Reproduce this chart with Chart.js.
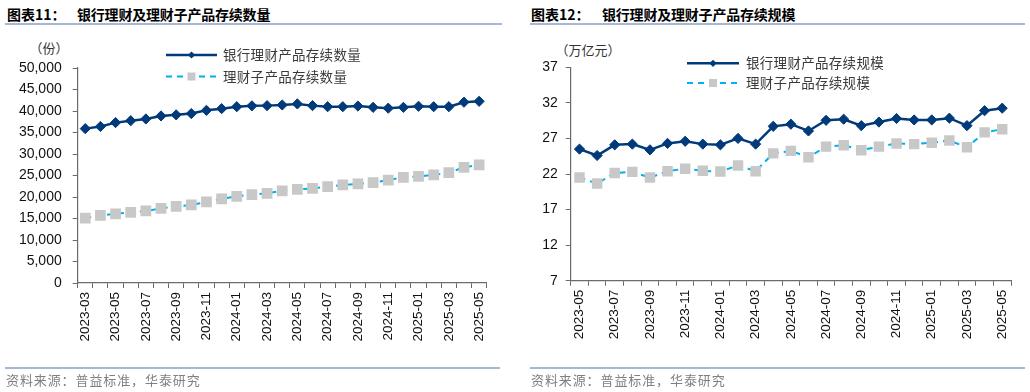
<!DOCTYPE html>
<html>
<head>
<meta charset="utf-8">
<script src="https://cdn.jsdelivr.net/npm/chart.js@4"></script>
<style>
  html, body { margin:0; padding:0; background:#fff; width:1030px; height:392px; overflow:hidden; }
  .abs { position:absolute; white-space:nowrap; }
  .title { font-family:"Noto Sans CJK SC", sans-serif; font-weight:700; font-size:14px; line-height:18px; color:#000; top:5px; }
  .rule { position:absolute; height:2px; background:#a7b8d4; }
  .unit { font-family:"Noto Sans CJK SC", sans-serif; font-size:13px; line-height:16px; color:#333; text-align:center; }
  .foot { font-family:"Noto Sans CJK SC", sans-serif; font-size:13px; line-height:16px; color:#808080; top:372px; letter-spacing:0.9px; }
  canvas { position:absolute; top:0; }
</style>
</head>
<body>
<div class="abs title" style="left:7px;">图表11：</div>
<div class="abs title" style="left:77px;letter-spacing:-0.2px;">银行理财及理财子产品存续数量</div>
<div class="rule" style="left:5px;width:497px;top:23px;"></div>
<div class="abs title" style="left:531px;">图表12：</div>
<div class="abs title" style="left:602px;letter-spacing:-0.2px;">银行理财及理财子产品存续规模</div>
<div class="rule" style="left:530px;width:495px;top:23px;"></div>

<div class="abs unit" style="left:19px;width:60px;top:40px;">（份）</div>
<div class="abs unit" style="left:548px;width:80px;top:42px;">（万亿元）</div>

<canvas id="c1" width="515" height="392" style="left:0;"></canvas>
<canvas id="c2" width="515" height="392" style="left:515px;"></canvas>

<div class="rule" style="left:5px;width:495px;top:367px;height:1.5px;"></div>
<div class="rule" style="left:530px;width:495px;top:367px;height:1.5px;"></div>
<div class="abs foot" style="left:6px;">资料来源：普益标准，华泰研究</div>
<div class="abs foot" style="left:531px;">资料来源：普益标准，华泰研究</div>

<script>
// ---- Data: chart 1 (product counts) ----
const months1 = ["2023-03","2023-04","2023-05","2023-06","2023-07","2023-08","2023-09","2023-10","2023-11","2023-12",
  "2024-01","2024-02","2024-03","2024-04","2024-05","2024-06","2024-07","2024-08","2024-09","2024-10","2024-11","2024-12",
  "2025-01","2025-02","2025-03","2025-04","2025-05"];
const bankCount = [35900,36400,37300,37750,38150,38850,39100,39400,40150,40550,41000,41200,41250,41400,41650,41250,41000,
  41000,41150,40850,40650,40850,41100,41000,41000,42050,42250];
const subCount = [15100,15700,16100,16450,16750,17350,17800,18150,18850,19550,20150,20550,20850,21450,21750,22000,22400,
  22800,23050,23350,23950,24550,24800,25150,25650,26900,27450];
const yTicks1 = { min:0, max:50000, step:5000 };

// ---- Data: chart 2 (product scale, trillion yuan) ----
const months2 = ["2023-05","2023-06","2023-07","2023-08","2023-09","2023-10","2023-11","2023-12",
  "2024-01","2024-02","2024-03","2024-04","2024-05","2024-06","2024-07","2024-08","2024-09","2024-10","2024-11","2024-12",
  "2025-01","2025-02","2025-03","2025-04","2025-05"];
const bankScale = [25.5,24.6,26.1,26.2,25.4,26.3,26.6,26.2,26.1,27.0,26.2,28.7,29.0,28.05,29.55,29.7,28.8,29.3,29.8,29.6,29.6,29.85,28.8,30.9,31.25];
const subScale = [21.5,20.65,22.15,22.3,21.5,22.4,22.75,22.45,22.35,23.2,22.4,24.9,25.25,24.35,25.85,26.05,25.35,25.85,26.3,26.2,26.4,26.7,25.75,27.85,28.3];
const yTicks2 = { min:7, max:37, step:5 };

const legend1 = ["银行理财产品存续数量","理财子产品存续数量"];
const legend2 = ["银行理财产品存续规模","理财子产品存续规模"];

const NAVY = '#003a7a', BLUE = '#00b0f0', GRAY = '#c8c8c8', AXIS = '#6b6b6b';

function drawMarker(ctx, style, x, y, r, color) {
  ctx.save();
  ctx.fillStyle = color;
  ctx.beginPath();
  if (style === 'rectRot') {
    ctx.moveTo(x, y - r); ctx.lineTo(x + r, y); ctx.lineTo(x, y + r); ctx.lineTo(x - r, y); ctx.closePath();
  } else {
    ctx.rect(x - r, y - r, 2 * r, 2 * r);
  }
  ctx.fill();
  ctx.restore();
}

const legendPlugin = {
  id: 'customLegend',
  afterDraw(chart, args, opts) {
    const ctx = chart.ctx;
    chart.data.datasets.forEach((ds, i) => {
      const y = opts.y0 + i * opts.dy;
      ctx.save();
      ctx.strokeStyle = ds.borderColor;
      ctx.lineWidth = ds.borderWidth;
      ctx.setLineDash(ds.borderDash || []);
      ctx.beginPath();
      ctx.moveTo(opts.x1, y); ctx.lineTo(opts.x2, y);
      ctx.stroke();
      ctx.restore();
      const mx = (opts.x1 + opts.x2) / 2;
      if (ds.pointStyle === 'rectRot') drawMarker(ctx, 'rectRot', mx, y, 3.6, ds.pointBackgroundColor);
      else drawMarker(ctx, 'rect', mx, y, 4, ds.pointBackgroundColor);
      ctx.save();
      ctx.fillStyle = '#3a3a3a';
      ctx.font = '13.5px "Noto Sans CJK SC", sans-serif';
      try { ctx.letterSpacing = '0.3px'; } catch (e) {}
      ctx.textBaseline = 'middle';
      ctx.textAlign = 'left';
      ctx.fillText(opts.labels[i], opts.tx, y);
      ctx.restore();
    });
  }
};

function makeChart(id, labels, s1, s2, names, yt, geom, legendOpts, fmt) {
  return new Chart(document.getElementById(id), {
    type: 'line',
    data: {
      labels: labels,
      datasets: [
        { label: names[0], data: s1, borderColor: NAVY, backgroundColor: NAVY, borderWidth: 2.5,
          pointStyle: 'rectRot', pointRadius: geom.dia, pointBackgroundColor: NAVY, pointBorderColor: NAVY,
          pointBorderWidth: 1, tension: 0, order: 1 },
        { label: names[1], data: s2, borderColor: BLUE, backgroundColor: GRAY, borderWidth: 2, borderDash: [6, 5],
          pointStyle: 'rect', pointRadius: geom.sq, pointBackgroundColor: GRAY, pointBorderColor: GRAY,
          pointBorderWidth: 0, tension: 0, order: 2 }
      ]
    },
    options: {
      responsive: false,
      devicePixelRatio: 1,
      animation: false,
      events: [],
      layout: { autoPadding: false, padding: { top: geom.top, right: geom.right, left: 0, bottom: 0 } },
      plugins: { legend: { display: false }, tooltip: { enabled: false }, customLegend: legendOpts },
      scales: {
        x: {
          type: 'category',
          offset: true,
          afterFit: (s) => { s.height = geom.xh; },
          grid: { display: true, drawOnChartArea: false, drawTicks: true, tickLength: 5, offset: true, color: AXIS, lineWidth: 1 },
          border: { display: true, color: AXIS, width: 1.2 },
          ticks: {
            autoSkip: false, maxRotation: 90, minRotation: 90, padding: 4,
            color: '#111', font: { family: '"Liberation Sans", Arial, sans-serif', size: 13.5 },
            callback: function (v, i) { return i % 2 === 0 ? this.getLabelForValue(v) : ''; }
          }
        },
        y: {
          min: yt.min, max: yt.max,
          afterFit: (s) => { s.width = geom.yw; },
          grid: { display: true, drawOnChartArea: false, drawTicks: true, tickLength: 5, color: AXIS, lineWidth: 1 },
          border: { display: true, color: AXIS, width: 1.2 },
          ticks: {
            stepSize: yt.step, padding: geom.ypad, color: '#111',
            font: { family: '"Liberation Sans", Arial, sans-serif', size: 14 },
            callback: fmt
          }
        }
      }
    },
    plugins: [legendPlugin]
  });
}

makeChart('c1', months1, bankCount, subCount, legend1, yTicks1,
  { top: 68, right: 28.3, xh: 109, yw: 77.7, ypad: 11, dia: 5.1, sq: 7.6 },
  { x1: 166, x2: 217, tx: 223, y0: 55, dy: 21.5, labels: legend1 },
  (v) => Number(v).toLocaleString('en-US'));

makeChart('c2', months2, bankScale, subScale, legend2, yTicks2,
  { top: 67.3, right: 19, xh: 111.3, yw: 55.7, ypad: 8, dia: 5.1, sq: 7.4 },
  { x1: 172, x2: 224, tx: 231, y0: 63.3, dy: 19.7, labels: legend2 },
  (v) => String(v));
</script>
</body>
</html>
